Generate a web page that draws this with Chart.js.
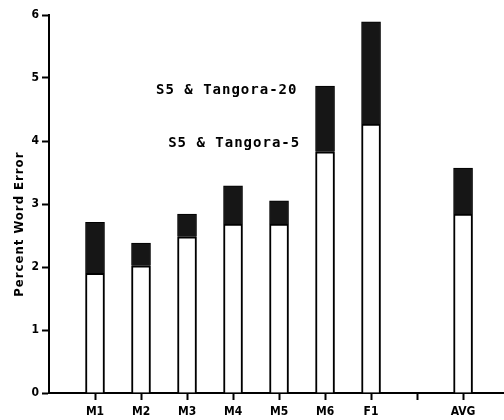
<!DOCTYPE html>
<html>
<head>
<meta charset="utf-8">
<script src="https://cdn.jsdelivr.net/npm/chart.js"></script>
<style>
  html, body { margin: 0; padding: 0; background: #fff; }
  #wrap { width: 504px; height: 420px; }
</style>
</head>
<body>
<div id="wrap"><canvas id="wordError"></canvas></div>
<script>
// speakers, with an empty slot before the average
const categories = ['M1', 'M2', 'M3', 'M4', 'M5', 'M6', 'F1', '', 'AVG'];
// percent word error, S5 & Tangora-5
const tangora5 = [1.90, 2.02, 2.48, 2.68, 2.68, 3.83, 4.27, null, 2.84];
// percent word error, S5 & Tangora-20 (top of the dark part)
const tangora20 = [2.71, 2.38, 2.84, 3.29, 3.05, 4.87, 5.89, null, 3.57];
const yTicks = [0, 1, 2, 3, 4, 5, 6];

document.addEventListener("DOMContentLoaded", function () {
  const ctx = document.getElementById('wordError');

  const lower = [];
  const upper = [];
  categories.forEach(function (c, i) {
    if (tangora5[i] == null) return;
    lower.push({ x: i + 1, y: tangora5[i] });
    upper.push({ x: i + 1, y: tangora20[i] - tangora5[i] }); // stacked on top
  });

  const tickFont = { family: '"DejaVu Sans Condensed", "DejaVu Sans"', size: 12, weight: 'bold' };

  // labels written inside the plot + rotated y title
  const notes = {
    id: 'notes',
    afterDraw(chart) {
      const c = chart.ctx;
      const xs = chart.scales.x, ys = chart.scales.y;
      c.save();
      c.fillStyle = '#000';
      c.font = 'bold 14px "DejaVu Sans Mono"';
      c.letterSpacing = '1px';
      c.textAlign = 'right';
      c.textBaseline = 'middle';
      c.fillText(chart.data.datasets[1].label, xs.getPixelForValue(5.40), ys.getPixelForValue(4.81));
      c.fillText(chart.data.datasets[0].label, xs.getPixelForValue(5.46), ys.getPixelForValue(3.97));
      c.restore();

      c.save();
      c.fillStyle = '#000';
      c.font = 'bold 13px "DejaVu Sans Condensed"';
      c.letterSpacing = '1px';
      c.textAlign = 'center';
      c.textBaseline = 'middle';
      c.translate(20, ys.getPixelForValue(2.68));
      c.rotate(-Math.PI / 2);
      c.fillText('Percent Word Error', 0, 0);
      c.restore();
    }
  };

  new Chart(ctx, {
    type: 'bar',
    data: {
      datasets: [
        {
          label: 'S5 & Tangora-5',
          data: lower,
          backgroundColor: '#ffffff',
          borderColor: '#000',
          borderWidth: 2,
          borderSkipped: 'start',
          barThickness: 19
        },
        {
          label: 'S5 & Tangora-20',
          data: upper,
          backgroundColor: '#161616',
          borderColor: '#000',
          borderWidth: 1,
          barThickness: 19
        }
      ]
    },
    options: {
      responsive: true,
      maintainAspectRatio: false,
      animation: false,
      layout: { padding: { top: 15, right: 0, bottom: 0, left: 0 } },
      plugins: {
        legend: { display: false },
        tooltip: { enabled: false }
      },
      scales: {
        x: {
          type: 'linear',
          min: 0,
          max: 9.89,
          stacked: true,
          offset: false,
          afterFit: function (s) { s.height = 27; },
          afterBuildTicks: function (s) {
            s.ticks = categories.map(function (c, i) { return { value: i + 1 }; });
          },
          grid: { offset: false, drawOnChartArea: false, drawTicks: true, tickLength: 7, tickWidth: 2, color: '#000' },
          border: { color: '#000', width: 2 },
          ticks: {
            callback: function (v) { return categories[v - 1] || ''; },
            font: tickFont,
            color: '#000',
            padding: 5,
            maxRotation: 0,
            autoSkip: false
          }
        },
        y: {
          min: 0,
          max: 6,
          stacked: true,
          afterFit: function (s) { s.width = 49; },
          afterBuildTicks: function (s) {
            s.ticks = yTicks.map(function (v) { return { value: v }; });
          },
          grid: { drawOnChartArea: false, tickLength: 7, tickWidth: 2, color: '#000' },
          border: { color: '#000', width: 2 },
          ticks: { font: tickFont, color: '#000', padding: 3 }
        }
      }
    },
    plugins: [notes]
  });
});
</script>
</body>
</html>
